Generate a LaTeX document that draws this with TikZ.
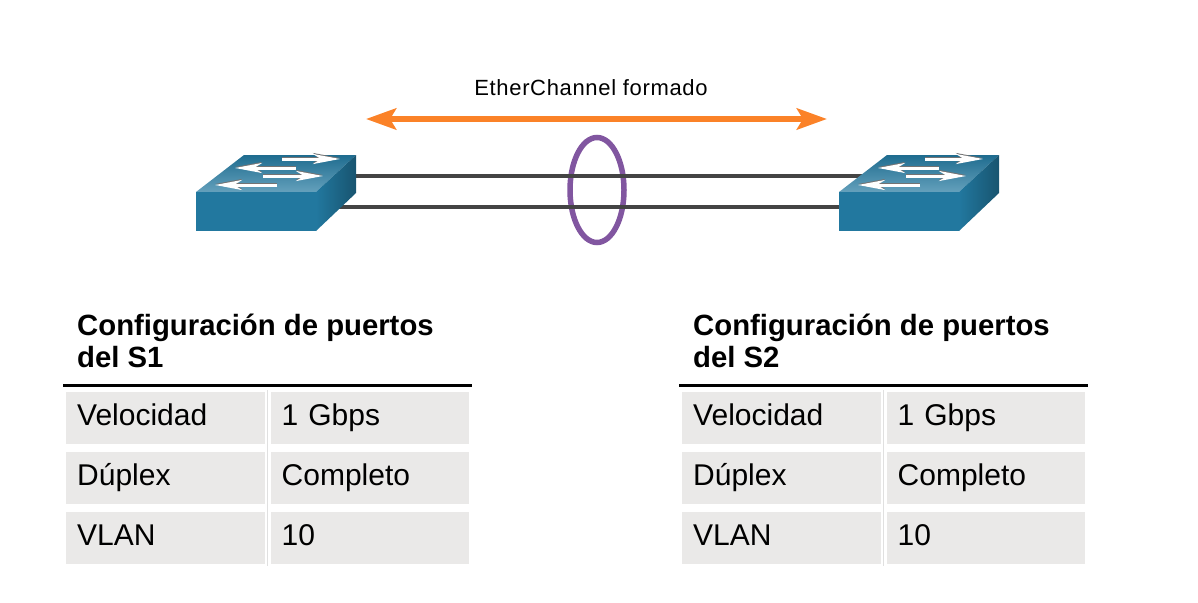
\documentclass[tikz,border=0pt]{standalone}
\usepackage{fontspec}
\setmainfont{Liberation Sans}
\usetikzlibrary{arrows.meta}
\definecolor{cellgray}{HTML}{EAE9E8}
\definecolor{ringpurple}{HTML}{8156A0}
\definecolor{linkorange}{HTML}{FB8228}
\definecolor{linkgray}{HTML}{444444}
\definecolor{swfront}{HTML}{22789F}
\tikzset{
  cell/.style={fill=cellgray,anchor=north west,minimum height=52pt,text width=177pt,inner xsep=11pt,inner ysep=0pt,
    text height=33pt,text depth=19pt,align=left,font=\fontsize{30}{32}\selectfont},
  valcell/.style={cell,text width=176.5pt},
  title/.style={anchor=north west,inner sep=0pt,align=left,font=\fontsize{29.3}{32}\selectfont\bfseries},
  link/.style={draw=linkgray,line width=4pt},
  swarrow/.style={-{Stealth[length=27pt,width=10pt,inset=8pt]},line width=3pt},
}
% one switch, lower left corner of the front face at (0,0)
\newcommand{\switchbox}[1]{
  \begin{scope}[xshift=#1]
    \shade[top color=swfront!90!black,bottom color=swfront!70!white](0,-39)--(48,-76)--(160,-76)--(120,-39)--cycle;
    \fill[swfront](0,-39)rectangle(120,0);
    \shade[left color=swfront,right color=swfront!70!black](120,-39)--(160,-76)--(160,-38)--(120,0)--cycle;
    \foreach \xa/\xb/\ya in {86/144/-72,100/39/-63,67/127/-55,81/19/-46} {
      \draw[swarrow,black!55](\xa,\ya-1)--(\xb,\ya-1);
      \draw[swarrow,white](\xa,\ya)--(\xb,\ya);
    }
  \end{scope}
}
\begin{document}
\begin{tikzpicture}[x=1pt,y=-1pt]
\useasboundingbox(0,0)rectangle(1198,602);
\node[font=\fontsize{22}{24}\selectfont\addfontfeature{LetterSpace=3}](lblchannel)at(591,88){EtherChannel formado};
\coordinate(arrowl)at(366,119);
\coordinate(arrowr)at(827,119);
\draw[linkorange,line width=6.5pt,{Stealth[length=30pt,width=21pt,inset=6pt]}-{Stealth[length=30pt,width=21pt,inset=6pt]}](arrowl)--(arrowr);
% ring goes under the two links
\draw[ringpurple,line width=5.5pt](597,190)ellipse[x radius=27,y radius=52.5];
\coordinate(s1a)at(340,176);
\coordinate(s1b)at(330,207);
\coordinate(s2a)at(865,176);
\coordinate(s2b)at(850,207);
\draw[link](s1a)--(s2a);
\draw[link](s1b)--(s2b);
\begin{scope}[shift={(0,231)}]
  \switchbox{196pt}
  \switchbox{839pt}
\end{scope}
\foreach \n/\s in {S1/0,S2/616} {
  \begin{scope}[xshift=\s pt]
    \node[title](title\n)at(77,314){Configuración de puertos\\del \n};
    \coordinate(rulel\n)at(63,385.5);
    \coordinate(ruler\n)at(472,385.5);
    \draw[line width=3.5pt](rulel\n)--(ruler\n);
    \coordinate(sept\n)at(267.5,390);
    \coordinate(sepb\n)at(267.5,566);
    \draw[black!12,line width=1pt](sept\n)--(sepb\n);
    \node[cell](vel\n)at(66,392){Velocidad};
    \node[valcell](velval\n)at(270.5,392){1 Gbps};
    \node[cell](dup\n)at(66,452){Dúplex};
    \node[valcell](dupval\n)at(270.5,452){Completo};
    \node[cell](vlan\n)at(66,512){VLAN};
    \node[valcell](vlanval\n)at(270.5,512){10};
  \end{scope}
}
\end{tikzpicture}
\end{document}
